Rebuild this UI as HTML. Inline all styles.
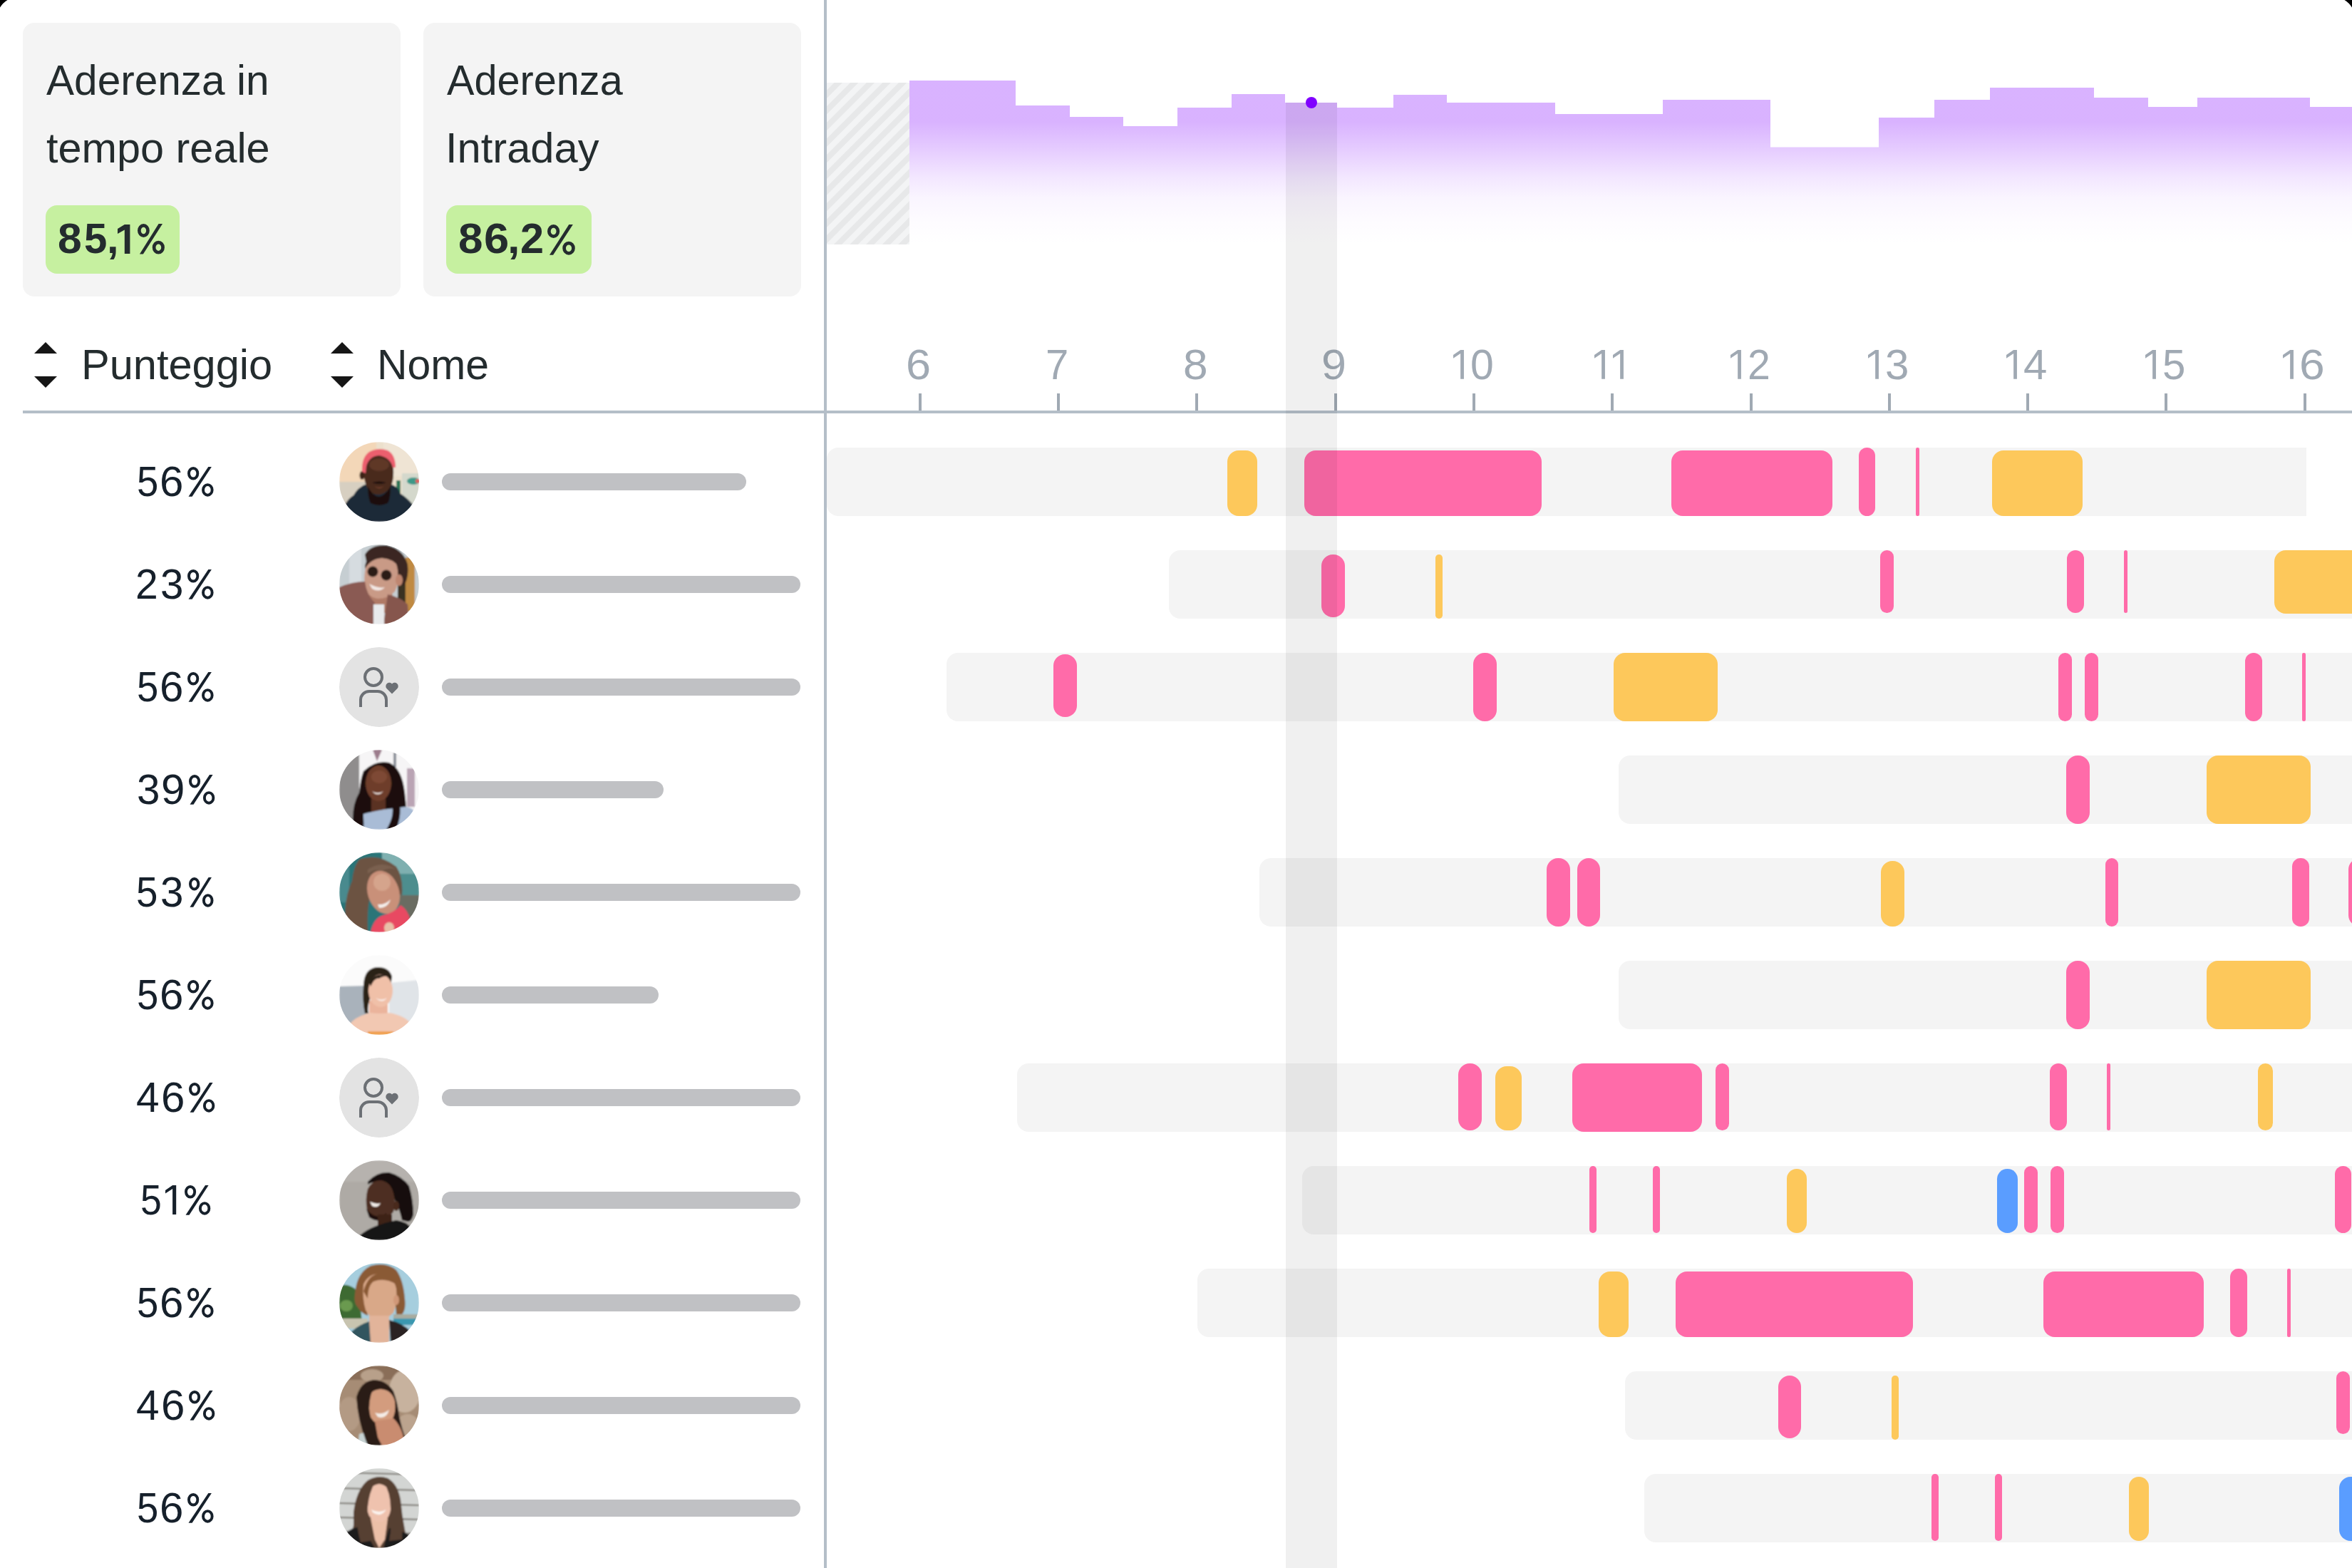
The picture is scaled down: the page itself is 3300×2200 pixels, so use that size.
<!DOCTYPE html>
<html><head><meta charset="utf-8"><style>
html,body{margin:0;padding:0;}
body{width:3300px;height:2200px;overflow:hidden;background:#000;position:relative;font-family:"Liberation Sans", sans-serif;}
#m{position:absolute;left:0;top:0;width:3300px;height:2200px;background:#fff;overflow:hidden;}
.t{position:absolute;white-space:nowrap;}
.r{position:absolute;display:block;}
</style></head><body><div id="m">
<div class="r" style="left:32.0px;top:32.0px;width:530.0px;height:384.0px;background:#f4f4f4;border-radius:16px;"></div>
<div class="r" style="left:594.0px;top:32.0px;width:530.0px;height:384.0px;background:#f4f4f4;border-radius:16px;"></div>
<div class="t" style="left:65.29px;top:82.63px;font-size:59.5px;line-height:59.5px;color:#242c2e;font-weight:400;transform:scaleX(0.9842);transform-origin:left center;">Aderenza in</div>
<div class="t" style="left:64.90px;top:177.63px;font-size:59.5px;line-height:59.5px;color:#242c2e;font-weight:400;transform:scaleX(0.9982);transform-origin:left center;">tempo reale</div>
<div class="t" style="left:627.49px;top:82.63px;font-size:59.5px;line-height:59.5px;color:#242c2e;font-weight:400;transform:scaleX(0.9686);transform-origin:left center;">Aderenza</div>
<div class="t" style="left:625.20px;top:177.63px;font-size:59.5px;line-height:59.5px;color:#242c2e;font-weight:400;transform:scaleX(1.0025);transform-origin:left center;">Intraday</div>
<div class="r" style="left:64.0px;top:288.0px;width:188.0px;height:96.0px;background:#c6f0a0;border-radius:16px;"></div>
<div class="r" style="left:626.0px;top:288.0px;width:204.0px;height:96.0px;background:#c6f0a0;border-radius:16px;"></div>
<div class="t" style="left:81.08px;top:305.21px;font-size:60px;line-height:60px;color:#242c2e;font-weight:700;transform:scaleX(1.0095);transform-origin:left center;">8</div>
<div class="t" style="left:118.01px;top:305.21px;font-size:60px;line-height:60px;color:#242c2e;font-weight:700;transform:scaleX(0.9681);transform-origin:left center;">5</div>
<div class="t" style="left:149.57px;top:305.21px;font-size:60px;line-height:60px;color:#242c2e;font-weight:700;transform:scaleX(0.9902);transform-origin:left center;">,</div>
<svg class="r" style="left:163.60px;top:314.00px" width="19.40" height="43.00" viewBox="0 0 19.40 43.00"><path d="M1.00 7.00 L10.80 1.00 H18.40 V42.00 H10.80 V8.50 L1.00 14.00 Z" fill="#242c2e"/></svg>
<svg class="r" style="left:192.20px;top:313.10px" width="39.90" height="44.60" viewBox="0 0 39.90 44.60"><ellipse cx="9.41" cy="10.46" rx="6.06" ry="7.11" fill="none" stroke="#242c2e" stroke-width="4.7"/><ellipse cx="30.33" cy="34.14" rx="6.22" ry="7.11" fill="none" stroke="#242c2e" stroke-width="4.7"/><path d="M3.92 43.60 L8.88 43.60 L36.02 1 L30.60 1 Z" fill="#242c2e"/></svg>
<div class="t" style="left:642.73px;top:305.41px;font-size:60px;line-height:60px;color:#242c2e;font-weight:700;transform:scaleX(1.0331);transform-origin:left center;">8</div>
<div class="t" style="left:678.58px;top:305.41px;font-size:60px;line-height:60px;color:#242c2e;font-weight:700;transform:scaleX(1.0550);transform-origin:left center;">6</div>
<div class="t" style="left:711.83px;top:305.41px;font-size:60px;line-height:60px;color:#242c2e;font-weight:700;transform:scaleX(1.0485);transform-origin:left center;">,</div>
<div class="t" style="left:730.34px;top:305.41px;font-size:60px;line-height:60px;color:#242c2e;font-weight:700;transform:scaleX(0.9901);transform-origin:left center;">2</div>
<svg class="r" style="left:767.20px;top:313.50px" width="40.80" height="44.70" viewBox="0 0 40.80 44.70"><ellipse cx="9.61" cy="10.48" rx="6.26" ry="7.13" fill="none" stroke="#242c2e" stroke-width="4.7"/><ellipse cx="31.03" cy="34.22" rx="6.42" ry="7.13" fill="none" stroke="#242c2e" stroke-width="4.7"/><path d="M3.99 43.70 L9.07 43.70 L36.85 1 L31.30 1 Z" fill="#242c2e"/></svg>
<svg class="r" style="left:48px;top:480px" width="32" height="64" viewBox="0 0 32 64"><path d="M0 16 L32 16 L16 0 Z M0 48 L32 48 L16 64 Z" fill="#161616"/></svg>
<div class="t" style="left:113.72px;top:481.63px;font-size:59.5px;line-height:59.5px;color:#242c2e;font-weight:400;transform:scaleX(1.0008);transform-origin:left center;">Punteggio</div>
<svg class="r" style="left:464px;top:480px" width="32" height="64" viewBox="0 0 32 64"><path d="M0 16 L32 16 L16 0 Z M0 48 L32 48 L16 64 Z" fill="#161616"/></svg>
<div class="t" style="left:529.37px;top:481.63px;font-size:59.5px;line-height:59.5px;color:#242c2e;font-weight:400;transform:scaleX(0.9888);transform-origin:left center;">Nome</div>
<div class="r" style="left:32.0px;top:576.0px;width:3268.0px;height:4.0px;background:#b4bec8;border-radius:0;"></div>
<div class="r" style="left:1156.0px;top:0.0px;width:4.0px;height:2200.0px;background:#b4bec8;border-radius:0;"></div>
<div class="r" style="left:1288.8px;top:552.0px;width:4.0px;height:24.0px;background:#a0a9b3;border-radius:0;"></div>
<div class="t" style="left:1271.30px;top:481.63px;font-size:59.5px;line-height:59.5px;color:#a0a9b3;font-weight:400;transform:scaleX(1.0599);transform-origin:left center;">6</div>
<div class="r" style="left:1483.1px;top:552.0px;width:4.0px;height:24.0px;background:#a0a9b3;border-radius:0;"></div>
<div class="t" style="left:1466.92px;top:481.63px;font-size:59.5px;line-height:59.5px;color:#a0a9b3;font-weight:400;transform:scaleX(0.9760);transform-origin:left center;">7</div>
<div class="r" style="left:1677.4px;top:552.0px;width:4.0px;height:24.0px;background:#a0a9b3;border-radius:0;"></div>
<div class="t" style="left:1660.30px;top:481.63px;font-size:59.5px;line-height:59.5px;color:#a0a9b3;font-weight:400;transform:scaleX(1.0459);transform-origin:left center;">8</div>
<div class="r" style="left:1871.7px;top:552.0px;width:4.0px;height:24.0px;background:#a0a9b3;border-radius:0;"></div>
<div class="t" style="left:1853.86px;top:481.63px;font-size:59.5px;line-height:59.5px;color:#a0a9b3;font-weight:400;transform:scaleX(1.0552);transform-origin:left center;">9</div>
<div class="r" style="left:2066.0px;top:552.0px;width:4.0px;height:24.0px;background:#a0a9b3;border-radius:0;"></div>
<svg class="r" style="left:2038.00px;top:490.10px" width="16.95" height="42.80" viewBox="0 0 16.95 42.80"><path d="M1.00 8.00 L11.15 1.00 H15.95 V41.80 H11.15 V6.00 L1.00 12.80 Z" fill="#a0a9b3"/></svg>
<div class="t" style="left:2062.70px;top:481.63px;font-size:59.5px;line-height:59.5px;color:#a0a9b3;font-weight:400;transform:scaleX(0.9915);transform-origin:left center;">0</div>
<div class="r" style="left:2260.2px;top:552.0px;width:4.0px;height:24.0px;background:#a0a9b3;border-radius:0;"></div>
<svg class="r" style="left:2236.30px;top:490.10px" width="16.95" height="42.80" viewBox="0 0 16.95 42.80"><path d="M1.00 8.00 L11.15 1.00 H15.95 V41.80 H11.15 V6.00 L1.00 12.80 Z" fill="#a0a9b3"/></svg>
<svg class="r" style="left:2262.30px;top:490.10px" width="16.95" height="42.80" viewBox="0 0 16.95 42.80"><path d="M1.00 8.00 L11.15 1.00 H15.95 V41.80 H11.15 V6.00 L1.00 12.80 Z" fill="#a0a9b3"/></svg>
<div class="r" style="left:2454.5px;top:552.0px;width:4.0px;height:24.0px;background:#a0a9b3;border-radius:0;"></div>
<svg class="r" style="left:2426.80px;top:490.10px" width="16.95" height="42.80" viewBox="0 0 16.95 42.80"><path d="M1.00 8.00 L11.15 1.00 H15.95 V41.80 H11.15 V6.00 L1.00 12.80 Z" fill="#a0a9b3"/></svg>
<div class="t" style="left:2451.82px;top:481.63px;font-size:59.5px;line-height:59.5px;color:#a0a9b3;font-weight:400;transform:scaleX(0.9629);transform-origin:left center;">2</div>
<div class="r" style="left:2648.8px;top:552.0px;width:4.0px;height:24.0px;background:#a0a9b3;border-radius:0;"></div>
<svg class="r" style="left:2620.00px;top:490.10px" width="16.95" height="42.80" viewBox="0 0 16.95 42.80"><path d="M1.00 8.00 L11.15 1.00 H15.95 V41.80 H11.15 V6.00 L1.00 12.80 Z" fill="#a0a9b3"/></svg>
<div class="t" style="left:2645.31px;top:481.63px;font-size:59.5px;line-height:59.5px;color:#a0a9b3;font-weight:400;transform:scaleX(1.0103);transform-origin:left center;">3</div>
<div class="r" style="left:2843.1px;top:552.0px;width:4.0px;height:24.0px;background:#a0a9b3;border-radius:0;"></div>
<svg class="r" style="left:2813.70px;top:490.10px" width="16.95" height="42.80" viewBox="0 0 16.95 42.80"><path d="M1.00 8.00 L11.15 1.00 H15.95 V41.80 H11.15 V6.00 L1.00 12.80 Z" fill="#a0a9b3"/></svg>
<div class="t" style="left:2839.42px;top:481.63px;font-size:59.5px;line-height:59.5px;color:#a0a9b3;font-weight:400;transform:scaleX(1.0073);transform-origin:left center;">4</div>
<div class="r" style="left:3037.4px;top:552.0px;width:4.0px;height:24.0px;background:#a0a9b3;border-radius:0;"></div>
<svg class="r" style="left:3009.20px;top:490.10px" width="16.95" height="42.80" viewBox="0 0 16.95 42.80"><path d="M1.00 8.00 L11.15 1.00 H15.95 V41.80 H11.15 V6.00 L1.00 12.80 Z" fill="#a0a9b3"/></svg>
<div class="t" style="left:3034.37px;top:481.63px;font-size:59.5px;line-height:59.5px;color:#a0a9b3;font-weight:400;transform:scaleX(0.9784);transform-origin:left center;">5</div>
<div class="r" style="left:3231.7px;top:552.0px;width:4.0px;height:24.0px;background:#a0a9b3;border-radius:0;"></div>
<svg class="r" style="left:3202.00px;top:490.10px" width="16.95" height="42.80" viewBox="0 0 16.95 42.80"><path d="M1.00 8.00 L11.15 1.00 H15.95 V41.80 H11.15 V6.00 L1.00 12.80 Z" fill="#a0a9b3"/></svg>
<div class="t" style="left:3226.34px;top:481.63px;font-size:59.5px;line-height:59.5px;color:#a0a9b3;font-weight:400;transform:scaleX(1.0781);transform-origin:left center;">6</div>
<svg class="r" style="left:0;top:0" width="3300" height="400" viewBox="0 0 3300 400">
<defs>
<linearGradient id="pg" gradientUnits="userSpaceOnUse" x1="0" y1="113" x2="0" y2="343">
<stop offset="0" stop-color="#8000ff" stop-opacity="0.3"/>
<stop offset="0.252" stop-color="#8000ff" stop-opacity="0.3"/>
<stop offset="0.387" stop-color="#8000ff" stop-opacity="0.22"/>
<stop offset="0.587" stop-color="#8000ff" stop-opacity="0.098"/>
<stop offset="0.717" stop-color="#8000ff" stop-opacity="0.04"/>
<stop offset="0.852" stop-color="#8000ff" stop-opacity="0.015"/>
<stop offset="1" stop-color="#8000ff" stop-opacity="0"/>
</linearGradient>
<pattern id="hatch" patternUnits="userSpaceOnUse" width="16" height="16" patternTransform="rotate(45) translate(13.7 0)">
<rect width="16" height="16" fill="#f3f4f5"/><rect width="8" height="16" fill="#e7e8e9"/>
</pattern>
</defs>
<rect x="1160" y="116" width="116" height="227" fill="url(#hatch)"/>
<polygon points="1276,343 1276,113 1425,113 1425,148 1501,148 1501,164 1576,164 1576,177 1652,177 1652,151 1728,151 1728,132 1803,132 1803,144 1876,144 1876,151 1955,151 1955,133 2030,133 2030,144 2182,144 2182,160 2333,160 2333,140 2484,140 2484,206.5 2636,206.5 2636,165 2714,165 2714,140 2792,140 2792,123 2938,123 2938,137 3014,137 3014,150 3083,150 3083,137 3241,137 3241,150 3300,150 3300,343" fill="url(#pg)"/>
</svg>
<div class="t" style="left:191.62px;top:645.63px;font-size:59.5px;line-height:59.5px;color:#16202b;font-weight:400;transform:scaleX(0.9146);transform-origin:left center;">5</div>
<div class="t" style="left:223.95px;top:645.63px;font-size:59.5px;line-height:59.5px;color:#16202b;font-weight:400;transform:scaleX(1.0089);transform-origin:left center;">6</div>
<svg class="r" style="left:261.70px;top:653.80px" width="38.60" height="43.70" viewBox="0 0 38.60 43.70"><ellipse cx="9.13" cy="10.26" rx="6.18" ry="7.31" fill="none" stroke="#16202b" stroke-width="3.9"/><ellipse cx="29.33" cy="33.44" rx="6.32" ry="7.31" fill="none" stroke="#16202b" stroke-width="3.9"/><path d="M2.50 42.70 L7.55 42.70 L34.86 1 L30.28 1 Z" fill="#16202b"/></svg>
<svg class="r" style="left:476px;top:620px" width="112" height="112" viewBox="0 0 112 112"><defs><clipPath id="ca1676"><circle cx="56" cy="56" r="56"/></clipPath><filter id="fa1676" x="-10%" y="-10%" width="120%" height="120%"><feGaussianBlur stdDeviation="1.3"/></filter></defs><g clip-path="url(#ca1676)"><g filter="url(#fa1676)"><rect width="112" height="112" fill="#ece0cc"/>
<rect x="0" y="0" width="52" height="58" fill="#f3d7b8"/>
<rect x="0" y="56" width="40" height="56" fill="#d7cfc1"/>
<rect x="62" y="0" width="50" height="48" fill="#efe4d4"/>
<rect x="88" y="44" width="24" height="48" fill="#d4d8cc"/>
<rect x="80" y="54" width="6" height="30" fill="#2e7656"/>
<ellipse cx="104" cy="55" rx="9" ry="5" fill="#3c9888"/>
<circle cx="110" cy="55" r="3" fill="#e06060"/>
<path d="M8 88 Q14 78 20 75 Q26 64 36 60 L74 60 Q84 64 85 72 Q98 80 106 92 L112 112 L0 112 Z" fill="#1c2b39"/>
<ellipse cx="32" cy="47" rx="3.5" ry="6" fill="#3a2016"/>
<path d="M34 36 Q34 18 55 17 Q76 18 76 38 Q77 58 70 66 Q62 74 55 74 Q46 74 40 66 Q34 56 34 36 Z" fill="#4a2a1e"/>
<ellipse cx="56" cy="32" rx="14" ry="9" fill="#5e3728"/>
<path d="M32 42 Q31 22 42 14 Q55 7 68 12 Q79 18 79 36 L75 36 Q72 22 56 19 Q42 20 38 34 L37 44 Z" fill="#ec5f6e"/>
<path d="M40 62 Q55 92 72 62 Q72 80 68 86 Q56 92 44 86 Q40 78 40 62 Z" fill="#1a100c"/>
<path d="M46 57 Q56 54 66 57 Q56 61 46 57 Z" fill="#1a100c"/>
<path d="M49 62 Q56 66 63 62 Q56 68 49 62 Z" fill="#8a4a38"/></g></g></svg>
<div class="r" style="left:620.0px;top:664.0px;width:427.0px;height:24.0px;background:#c0c1c4;border-radius:12px;"></div>
<div class="r" style="left:1160.0px;top:628.0px;width:2076.0px;height:96.0px;background:#f4f4f4;border-radius:16px 0 0 16px;"></div>
<div class="r" style="left:1722.0px;top:632.0px;width:42.0px;height:92.0px;background:#fdc85b;border-radius:16.0px;"></div>
<div class="r" style="left:1830.0px;top:632.0px;width:333.0px;height:92.0px;background:#ff6ba9;border-radius:16.0px;"></div>
<div class="r" style="left:2345.0px;top:632.0px;width:226.0px;height:92.0px;background:#ff6ba9;border-radius:16.0px;"></div>
<div class="r" style="left:2608.0px;top:628.0px;width:23.0px;height:96.0px;background:#ff6ba9;border-radius:11.5px;"></div>
<div class="r" style="left:2688.0px;top:628.0px;width:4.5px;height:96.0px;background:#ff6ba9;border-radius:2.2px;"></div>
<div class="r" style="left:2795.0px;top:632.0px;width:127.0px;height:92.0px;background:#fdc85b;border-radius:16.0px;"></div>
<div class="t" style="left:190.13px;top:789.63px;font-size:59.5px;line-height:59.5px;color:#16202b;font-weight:400;transform:scaleX(0.9592);transform-origin:left center;">2</div>
<div class="t" style="left:224.77px;top:789.63px;font-size:59.5px;line-height:59.5px;color:#16202b;font-weight:400;transform:scaleX(0.9819);transform-origin:left center;">3</div>
<svg class="r" style="left:261.70px;top:797.80px" width="38.60" height="43.70" viewBox="0 0 38.60 43.70"><ellipse cx="9.13" cy="10.26" rx="6.18" ry="7.31" fill="none" stroke="#16202b" stroke-width="3.9"/><ellipse cx="29.33" cy="33.44" rx="6.32" ry="7.31" fill="none" stroke="#16202b" stroke-width="3.9"/><path d="M2.50 42.70 L7.55 42.70 L34.86 1 L30.28 1 Z" fill="#16202b"/></svg>
<svg class="r" style="left:476px;top:764px" width="112" height="112" viewBox="0 0 112 112"><defs><clipPath id="ca2820"><circle cx="56" cy="56" r="56"/></clipPath><filter id="fa2820" x="-10%" y="-10%" width="120%" height="120%"><feGaussianBlur stdDeviation="1.3"/></filter></defs><g clip-path="url(#ca2820)"><g filter="url(#fa2820)"><rect width="112" height="112" fill="#c6ced2"/>
<rect x="14" y="0" width="17" height="60" fill="#d6dce0"/>
<rect x="82" y="36" width="12" height="46" fill="#3a3024"/>
<rect x="93" y="18" width="13" height="76" fill="#c08a42"/>
<path d="M36 14 Q44 0 66 1 Q90 6 96 28 Q98 44 92 56 L84 58 L80 36 Q60 22 40 34 Z" fill="#3a2820"/>
<path d="M38 62 Q50 86 74 64 L76 96 L42 96 Z" fill="#b07a66"/>
<path d="M37 32 Q40 14 60 14 Q80 16 82 36 Q84 56 78 66 Q68 76 54 76 Q40 74 36 60 Q34 46 37 32 Z" fill="#c99a86"/>
<ellipse cx="84" cy="50" rx="5" ry="8" fill="#bf8670"/>
<path d="M36 30 Q40 10 62 10 Q80 12 84 32 Q76 20 60 19 Q44 20 36 34 Z" fill="#3a2820"/>
<circle cx="47" cy="38" r="7.5" fill="#2a1a16"/>
<circle cx="66" cy="43" r="7.5" fill="#2a1a16"/>
<path d="M42 55 Q54 62 64 60 Q56 68 46 62 Z" fill="#f2e8e4"/>
<path d="M0 60 Q18 52 36 52 Q38 70 50 82 L48 112 L0 112 Z" fill="#8a5a52"/>
<path d="M68 70 Q86 74 96 84 L98 112 L62 112 Z" fill="#86564e"/>
<rect x="48" y="84" width="15" height="28" fill="#e8eaec"/></g></g></svg>
<div class="r" style="left:620.0px;top:808.0px;width:503.0px;height:24.0px;background:#c0c1c4;border-radius:12px;"></div>
<div class="r" style="left:1640.0px;top:772.0px;width:1660.0px;height:96.0px;background:#f4f4f4;border-radius:16px 0 0 16px;"></div>
<div class="r" style="left:1854.0px;top:778.0px;width:33.0px;height:88.0px;background:#ff6ba9;border-radius:16.0px;"></div>
<div class="r" style="left:2014.0px;top:778.0px;width:9.5px;height:90.0px;background:#fdc85b;border-radius:4.8px;"></div>
<div class="r" style="left:2638.0px;top:772.0px;width:18.5px;height:88.0px;background:#ff6ba9;border-radius:9.2px;"></div>
<div class="r" style="left:2900.0px;top:772.0px;width:24.0px;height:88.0px;background:#ff6ba9;border-radius:12.0px;"></div>
<div class="r" style="left:2980.0px;top:772.0px;width:5.0px;height:88.0px;background:#ff6ba9;border-radius:2.5px;"></div>
<div class="r" style="left:3191.0px;top:772.0px;width:149.0px;height:89.0px;background:#fdc85b;border-radius:16.0px;"></div>
<div class="t" style="left:191.62px;top:933.63px;font-size:59.5px;line-height:59.5px;color:#16202b;font-weight:400;transform:scaleX(0.9146);transform-origin:left center;">5</div>
<div class="t" style="left:223.95px;top:933.63px;font-size:59.5px;line-height:59.5px;color:#16202b;font-weight:400;transform:scaleX(1.0089);transform-origin:left center;">6</div>
<svg class="r" style="left:261.70px;top:941.80px" width="38.60" height="43.70" viewBox="0 0 38.60 43.70"><ellipse cx="9.13" cy="10.26" rx="6.18" ry="7.31" fill="none" stroke="#16202b" stroke-width="3.9"/><ellipse cx="29.33" cy="33.44" rx="6.32" ry="7.31" fill="none" stroke="#16202b" stroke-width="3.9"/><path d="M2.50 42.70 L7.55 42.70 L34.86 1 L30.28 1 Z" fill="#16202b"/></svg>
<svg class="r" style="left:476px;top:908px" width="112" height="112" viewBox="0 0 112 112"><defs><clipPath id="cph964"><circle cx="56" cy="56" r="56"/></clipPath><filter id="fph964" x="-10%" y="-10%" width="120%" height="120%"><feGaussianBlur stdDeviation="1.3"/></filter></defs><g clip-path="url(#cph964)"><g><circle cx="56" cy="56" r="56" fill="#e3e3e3"/>
<circle cx="48" cy="42" r="12" fill="none" stroke="#6c7075" stroke-width="4"/>
<path d="M30 84 V74 A12 12 0 0 1 42 62 H54 A12 12 0 0 1 66 74 V84" fill="none" stroke="#6c7075" stroke-width="4"/>
<path d="M74 65.5 L66.5 58 A4.6 4.6 0 0 1 74 51.5 A4.6 4.6 0 0 1 81.5 58 Z" fill="#6c7075"/></g></g></svg>
<div class="r" style="left:620.0px;top:952.0px;width:503.0px;height:24.0px;background:#c0c1c4;border-radius:12px;"></div>
<div class="r" style="left:1328.0px;top:916.0px;width:1972.0px;height:96.0px;background:#f4f4f4;border-radius:16px 0 0 16px;"></div>
<div class="r" style="left:1478.0px;top:918.0px;width:33.0px;height:88.0px;background:#ff6ba9;border-radius:16.0px;"></div>
<div class="r" style="left:2067.0px;top:916.0px;width:33.0px;height:96.0px;background:#ff6ba9;border-radius:16.0px;"></div>
<div class="r" style="left:2264.0px;top:916.0px;width:145.5px;height:96.0px;background:#fdc85b;border-radius:16.0px;"></div>
<div class="r" style="left:2888.0px;top:916.0px;width:19.0px;height:96.0px;background:#ff6ba9;border-radius:9.5px;"></div>
<div class="r" style="left:2925.0px;top:916.0px;width:19.0px;height:96.0px;background:#ff6ba9;border-radius:9.5px;"></div>
<div class="r" style="left:3150.0px;top:916.0px;width:24.0px;height:96.0px;background:#ff6ba9;border-radius:12.0px;"></div>
<div class="r" style="left:3230.4px;top:916.0px;width:4.6px;height:96.0px;background:#ff6ba9;border-radius:2.3px;"></div>
<div class="t" style="left:191.77px;top:1077.63px;font-size:59.5px;line-height:59.5px;color:#16202b;font-weight:400;transform:scaleX(0.9819);transform-origin:left center;">3</div>
<div class="t" style="left:226.29px;top:1077.63px;font-size:59.5px;line-height:59.5px;color:#16202b;font-weight:400;transform:scaleX(1.0079);transform-origin:left center;">9</div>
<svg class="r" style="left:263.80px;top:1085.80px" width="38.30" height="43.70" viewBox="0 0 38.30 43.70"><ellipse cx="9.06" cy="10.26" rx="6.11" ry="7.31" fill="none" stroke="#16202b" stroke-width="3.9"/><ellipse cx="29.10" cy="33.44" rx="6.25" ry="7.31" fill="none" stroke="#16202b" stroke-width="3.9"/><path d="M2.49 42.70 L7.50 42.70 L34.58 1 L30.04 1 Z" fill="#16202b"/></svg>
<svg class="r" style="left:476px;top:1052px" width="112" height="112" viewBox="0 0 112 112"><defs><clipPath id="ca41108"><circle cx="56" cy="56" r="56"/></clipPath><filter id="fa41108" x="-10%" y="-10%" width="120%" height="120%"><feGaussianBlur stdDeviation="1.3"/></filter></defs><g clip-path="url(#ca41108)"><g filter="url(#fa41108)"><rect width="112" height="112" fill="#f6f5f6"/>
<rect x="0" y="0" width="28" height="112" fill="#8f8d8d"/>
<rect x="76" y="4" width="4" height="20" fill="#8a9098"/>
<path d="M47 0 L60 0 L53 16 Z" fill="#9c7c8c"/>
<rect x="95" y="26" width="11" height="54" fill="#baa4b4"/>
<path d="M34 30 Q50 14 70 18 Q88 26 92 60 Q96 90 92 112 L20 112 Q16 80 28 60 Q30 40 34 30 Z" fill="#1a1110"/>
<rect x="45" y="64" width="20" height="26" fill="#5a3020"/>
<ellipse cx="55" cy="47" rx="18" ry="25" fill="#6e3e2a"/>
<ellipse cx="56" cy="38" rx="11" ry="9" fill="#7e4a34"/>
<path d="M46 58 Q54 63 62 58 Q54 67 46 58 Z" fill="#f0e8e4"/>
<path d="M34 90 Q55 84 92 80 Q104 80 106 90 L100 112 L34 112 Z" fill="#a9bcd6"/>
<path d="M28 70 Q36 90 34 112 L20 112 Q18 90 28 70 Z" fill="#1a1110"/>
<path d="M78 60 Q92 80 80 112 L66 112 Q80 90 72 70 Z" fill="#1a1110"/></g></g></svg>
<div class="r" style="left:620.0px;top:1096.0px;width:311.0px;height:24.0px;background:#c0c1c4;border-radius:12px;"></div>
<div class="r" style="left:2270.6px;top:1060.0px;width:1029.4px;height:96.0px;background:#f4f4f4;border-radius:16px 0 0 16px;"></div>
<div class="r" style="left:2899.0px;top:1060.0px;width:33.0px;height:96.0px;background:#ff6ba9;border-radius:16.0px;"></div>
<div class="r" style="left:3096.0px;top:1060.0px;width:145.6px;height:96.0px;background:#fdc85b;border-radius:16.0px;"></div>
<div class="t" style="left:190.91px;top:1221.63px;font-size:59.5px;line-height:59.5px;color:#16202b;font-weight:400;transform:scaleX(0.9181);transform-origin:left center;">5</div>
<div class="t" style="left:224.77px;top:1221.63px;font-size:59.5px;line-height:59.5px;color:#16202b;font-weight:400;transform:scaleX(0.9819);transform-origin:left center;">3</div>
<svg class="r" style="left:263.80px;top:1229.80px" width="36.50" height="43.70" viewBox="0 0 36.50 43.70"><ellipse cx="8.66" cy="10.26" rx="5.71" ry="7.31" fill="none" stroke="#16202b" stroke-width="3.9"/><ellipse cx="27.70" cy="33.44" rx="5.85" ry="7.31" fill="none" stroke="#16202b" stroke-width="3.9"/><path d="M2.41 42.70 L7.18 42.70 L32.91 1 L28.60 1 Z" fill="#16202b"/></svg>
<svg class="r" style="left:476px;top:1196px" width="112" height="112" viewBox="0 0 112 112"><defs><clipPath id="ca51252"><circle cx="56" cy="56" r="56"/></clipPath><filter id="fa51252" x="-10%" y="-10%" width="120%" height="120%"><feGaussianBlur stdDeviation="1.3"/></filter></defs><g clip-path="url(#ca51252)"><g filter="url(#fa51252)"><rect width="112" height="112" fill="#2a7478"/>
<rect x="60" y="0" width="52" height="30" fill="#7fb0b0"/>
<rect x="80" y="30" width="32" height="30" fill="#4e8e8e"/>
<rect x="84" y="60" width="28" height="32" fill="#6a6c62"/>
<rect x="0" y="20" width="14" height="50" fill="#4a8a8e"/>
<path d="M28 10 Q55 0 80 20 Q90 35 88 60 L50 50 Q38 60 40 112 L10 112 Q4 70 18 40 Q20 20 28 10 Z" fill="#6c5242"/>
<ellipse cx="62" cy="56" rx="22" ry="31" transform="rotate(-18 62 56)" fill="#c99079"/>
<ellipse cx="60" cy="42" rx="12" ry="12" fill="#d5a48c"/>
<path d="M54 73 Q64 74 72 66 Q68 78 56 78 Z" fill="#f4eeea"/>
<path d="M40 24 Q60 10 80 24 Q70 20 60 26 Q50 22 40 30 Z" fill="#7a6050"/>
<path d="M44 112 Q48 92 62 88 Q78 84 86 74 Q96 80 100 96 L96 112 Z" fill="#e84a62"/>
<ellipse cx="70" cy="106" rx="7" ry="8" fill="#e8c0a8"/></g></g></svg>
<div class="r" style="left:620.0px;top:1240.0px;width:503.0px;height:24.0px;background:#c0c1c4;border-radius:12px;"></div>
<div class="r" style="left:1767.0px;top:1204.0px;width:1533.0px;height:96.0px;background:#f4f4f4;border-radius:16px 0 0 16px;"></div>
<div class="r" style="left:2170.0px;top:1204.0px;width:33.0px;height:96.0px;background:#ff6ba9;border-radius:16.0px;"></div>
<div class="r" style="left:2212.7px;top:1204.0px;width:32.7px;height:96.0px;background:#ff6ba9;border-radius:16.0px;"></div>
<div class="r" style="left:2639.0px;top:1208.0px;width:33.0px;height:92.0px;background:#fdc85b;border-radius:16.0px;"></div>
<div class="r" style="left:2953.5px;top:1204.0px;width:18.7px;height:96.0px;background:#ff6ba9;border-radius:9.3px;"></div>
<div class="r" style="left:3216.4px;top:1204.0px;width:23.3px;height:96.0px;background:#ff6ba9;border-radius:11.6px;"></div>
<div class="r" style="left:3295.4px;top:1204.0px;width:34.6px;height:96.0px;background:#ff6ba9;border-radius:16.0px;"></div>
<div class="t" style="left:191.62px;top:1365.63px;font-size:59.5px;line-height:59.5px;color:#16202b;font-weight:400;transform:scaleX(0.9146);transform-origin:left center;">5</div>
<div class="t" style="left:223.95px;top:1365.63px;font-size:59.5px;line-height:59.5px;color:#16202b;font-weight:400;transform:scaleX(1.0089);transform-origin:left center;">6</div>
<svg class="r" style="left:261.70px;top:1373.80px" width="38.60" height="43.70" viewBox="0 0 38.60 43.70"><ellipse cx="9.13" cy="10.26" rx="6.18" ry="7.31" fill="none" stroke="#16202b" stroke-width="3.9"/><ellipse cx="29.33" cy="33.44" rx="6.32" ry="7.31" fill="none" stroke="#16202b" stroke-width="3.9"/><path d="M2.50 42.70 L7.55 42.70 L34.86 1 L30.28 1 Z" fill="#16202b"/></svg>
<svg class="r" style="left:476px;top:1340px" width="112" height="112" viewBox="0 0 112 112"><defs><clipPath id="ca61396"><circle cx="56" cy="56" r="56"/></clipPath><filter id="fa61396" x="-10%" y="-10%" width="120%" height="120%"><feGaussianBlur stdDeviation="1.3"/></filter></defs><g clip-path="url(#ca61396)"><g filter="url(#fa61396)"><rect width="112" height="112" fill="#fbfbfb"/>
<path d="M0 44 L38 43 L38 112 L0 112 Z" fill="#a9b2bb"/>
<path d="M70 39 L112 35 L112 112 L70 112 Z" fill="#e0e4e8"/>
<path d="M34 42 Q35 18 54 17 Q70 17 74 30 L72 44 Q60 30 46 40 L43 62 Q39 74 41 82 L36 82 Q32 64 34 42 Z" fill="#2a2018"/>
<rect x="42" y="64" width="26" height="26" fill="#ebb49c"/>
<ellipse cx="58" cy="50" rx="17" ry="23" fill="#f0c0a8"/>
<path d="M42 38 Q52 22 72 30 Q62 28 56 33 Q50 31 44 44 Z" fill="#2a2018"/>
<path d="M51 60 Q59 65 67 60 Q60 69 51 60 Z" fill="#faf0ec"/>
<path d="M14 98 Q22 86 44 81 Q58 83 70 81 Q92 85 100 96 L104 112 L10 112 Z" fill="#f2c8b2"/>
<rect x="40" y="107" width="36" height="5" fill="#f0a050"/></g></g></svg>
<div class="r" style="left:620.0px;top:1384.0px;width:303.5px;height:24.0px;background:#c0c1c4;border-radius:12px;"></div>
<div class="r" style="left:2270.6px;top:1348.0px;width:1029.4px;height:96.0px;background:#f4f4f4;border-radius:16px 0 0 16px;"></div>
<div class="r" style="left:2899.0px;top:1348.0px;width:33.0px;height:96.0px;background:#ff6ba9;border-radius:16.0px;"></div>
<div class="r" style="left:3096.0px;top:1348.0px;width:145.6px;height:96.0px;background:#fdc85b;border-radius:16.0px;"></div>
<div class="t" style="left:191.46px;top:1509.63px;font-size:59.5px;line-height:59.5px;color:#16202b;font-weight:400;transform:scaleX(0.9839);transform-origin:left center;">4</div>
<div class="t" style="left:226.05px;top:1509.63px;font-size:59.5px;line-height:59.5px;color:#16202b;font-weight:400;transform:scaleX(1.0089);transform-origin:left center;">6</div>
<svg class="r" style="left:263.80px;top:1517.80px" width="38.30" height="43.70" viewBox="0 0 38.30 43.70"><ellipse cx="9.06" cy="10.26" rx="6.11" ry="7.31" fill="none" stroke="#16202b" stroke-width="3.9"/><ellipse cx="29.10" cy="33.44" rx="6.25" ry="7.31" fill="none" stroke="#16202b" stroke-width="3.9"/><path d="M2.49 42.70 L7.50 42.70 L34.58 1 L30.04 1 Z" fill="#16202b"/></svg>
<svg class="r" style="left:476px;top:1484px" width="112" height="112" viewBox="0 0 112 112"><defs><clipPath id="cph1540"><circle cx="56" cy="56" r="56"/></clipPath><filter id="fph1540" x="-10%" y="-10%" width="120%" height="120%"><feGaussianBlur stdDeviation="1.3"/></filter></defs><g clip-path="url(#cph1540)"><g><circle cx="56" cy="56" r="56" fill="#e3e3e3"/>
<circle cx="48" cy="42" r="12" fill="none" stroke="#6c7075" stroke-width="4"/>
<path d="M30 84 V74 A12 12 0 0 1 42 62 H54 A12 12 0 0 1 66 74 V84" fill="none" stroke="#6c7075" stroke-width="4"/>
<path d="M74 65.5 L66.5 58 A4.6 4.6 0 0 1 74 51.5 A4.6 4.6 0 0 1 81.5 58 Z" fill="#6c7075"/></g></g></svg>
<div class="r" style="left:620.0px;top:1528.0px;width:503.0px;height:24.0px;background:#c0c1c4;border-radius:12px;"></div>
<div class="r" style="left:1427.0px;top:1492.0px;width:1873.0px;height:96.0px;background:#f4f4f4;border-radius:16px 0 0 16px;"></div>
<div class="r" style="left:2046.0px;top:1492.0px;width:33.0px;height:94.0px;background:#ff6ba9;border-radius:16.0px;"></div>
<div class="r" style="left:2098.0px;top:1496.0px;width:37.0px;height:90.0px;background:#fdc85b;border-radius:16.0px;"></div>
<div class="r" style="left:2205.6px;top:1492.0px;width:182.4px;height:96.0px;background:#ff6ba9;border-radius:16.0px;"></div>
<div class="r" style="left:2407.0px;top:1492.0px;width:19.0px;height:94.0px;background:#ff6ba9;border-radius:9.5px;"></div>
<div class="r" style="left:2876.0px;top:1492.0px;width:24.0px;height:94.0px;background:#ff6ba9;border-radius:12.0px;"></div>
<div class="r" style="left:2956.0px;top:1492.0px;width:4.5px;height:94.0px;background:#ff6ba9;border-radius:2.2px;"></div>
<div class="r" style="left:3168.0px;top:1492.0px;width:21.0px;height:94.0px;background:#fdc85b;border-radius:10.5px;"></div>
<div class="t" style="left:197.05px;top:1653.63px;font-size:59.5px;line-height:59.5px;color:#16202b;font-weight:400;transform:scaleX(0.9004);transform-origin:left center;">5</div>
<svg class="r" style="left:230.80px;top:1662.10px" width="17.20" height="42.90" viewBox="0 0 17.20 42.90"><path d="M1.00 7.90 L11.10 1.00 H16.20 V41.90 H11.10 V5.90 L1.00 12.40 Z" fill="#16202b"/></svg>
<svg class="r" style="left:258.20px;top:1661.80px" width="38.30" height="43.70" viewBox="0 0 38.30 43.70"><ellipse cx="9.06" cy="10.26" rx="6.11" ry="7.31" fill="none" stroke="#16202b" stroke-width="3.9"/><ellipse cx="29.10" cy="33.44" rx="6.25" ry="7.31" fill="none" stroke="#16202b" stroke-width="3.9"/><path d="M2.49 42.70 L7.50 42.70 L34.58 1 L30.04 1 Z" fill="#16202b"/></svg>
<svg class="r" style="left:476px;top:1628px" width="112" height="112" viewBox="0 0 112 112"><defs><clipPath id="ca81684"><circle cx="56" cy="56" r="56"/></clipPath><filter id="fa81684" x="-10%" y="-10%" width="120%" height="120%"><feGaussianBlur stdDeviation="1.3"/></filter></defs><g clip-path="url(#ca81684)"><g filter="url(#fa81684)"><rect width="112" height="112" fill="#aeaaa5"/>
<rect width="112" height="30" fill="#b6b2ae"/>
<path d="M40 30 Q52 16 70 17 Q88 22 98 36 Q104 56 104 76 Q102 86 96 86 L88 84 Q84 66 78 56 Q70 34 56 30 Q46 30 40 34 Z" fill="#161010"/>
<path d="M40 40 Q46 28 58 28 Q72 30 76 46 Q80 60 76 72 Q68 84 56 84 Q42 82 39 70 Q36 54 40 40 Z" fill="#4e2e22"/>
<ellipse cx="80" cy="64" rx="4" ry="7" fill="#4a2a1e"/>
<path d="M43 58 Q52 62 58 60 Q54 68 46 64 Z" fill="#f2ece8"/>
<path d="M38 68 Q52 86 66 74 L64 82 Q54 88 42 80 Z" fill="#1a100c"/>
<rect x="54" y="76" width="20" height="16" fill="#3c2418"/>
<path d="M26 108 Q36 98 52 92 Q70 86 80 84 Q94 86 100 94 L112 112 L20 112 Z" fill="#141414"/></g></g></svg>
<div class="r" style="left:620.0px;top:1672.0px;width:503.0px;height:24.0px;background:#c0c1c4;border-radius:12px;"></div>
<div class="r" style="left:1827.0px;top:1636.0px;width:1473.0px;height:96.0px;background:#f4f4f4;border-radius:16px 0 0 16px;"></div>
<div class="r" style="left:2230.0px;top:1636.0px;width:10.0px;height:94.0px;background:#ff6ba9;border-radius:5.0px;"></div>
<div class="r" style="left:2319.0px;top:1636.0px;width:10.0px;height:94.0px;background:#ff6ba9;border-radius:5.0px;"></div>
<div class="r" style="left:2507.0px;top:1640.0px;width:28.0px;height:90.0px;background:#fdc85b;border-radius:14.0px;"></div>
<div class="r" style="left:2802.0px;top:1640.0px;width:28.5px;height:90.0px;background:#5a9dff;border-radius:14.2px;"></div>
<div class="r" style="left:2840.0px;top:1636.0px;width:18.6px;height:94.0px;background:#ff6ba9;border-radius:9.3px;"></div>
<div class="r" style="left:2877.0px;top:1636.0px;width:19.0px;height:94.0px;background:#ff6ba9;border-radius:9.5px;"></div>
<div class="r" style="left:3276.0px;top:1636.0px;width:23.0px;height:94.0px;background:#ff6ba9;border-radius:11.5px;"></div>
<div class="t" style="left:191.62px;top:1797.63px;font-size:59.5px;line-height:59.5px;color:#16202b;font-weight:400;transform:scaleX(0.9146);transform-origin:left center;">5</div>
<div class="t" style="left:223.95px;top:1797.63px;font-size:59.5px;line-height:59.5px;color:#16202b;font-weight:400;transform:scaleX(1.0089);transform-origin:left center;">6</div>
<svg class="r" style="left:261.70px;top:1805.80px" width="38.60" height="43.70" viewBox="0 0 38.60 43.70"><ellipse cx="9.13" cy="10.26" rx="6.18" ry="7.31" fill="none" stroke="#16202b" stroke-width="3.9"/><ellipse cx="29.33" cy="33.44" rx="6.32" ry="7.31" fill="none" stroke="#16202b" stroke-width="3.9"/><path d="M2.50 42.70 L7.55 42.70 L34.86 1 L30.28 1 Z" fill="#16202b"/></svg>
<svg class="r" style="left:476px;top:1772px" width="112" height="112" viewBox="0 0 112 112"><defs><clipPath id="ca91828"><circle cx="56" cy="56" r="56"/></clipPath><filter id="fa91828" x="-10%" y="-10%" width="120%" height="120%"><feGaussianBlur stdDeviation="1.3"/></filter></defs><g clip-path="url(#ca91828)"><g filter="url(#fa91828)"><rect width="112" height="112" fill="#a6cede"/>
<path d="M0 32 Q10 28 22 36 Q30 50 32 88 L0 90 Z" fill="#3d6a32"/>
<ellipse cx="10" cy="60" rx="9" ry="8" fill="#6a9a50"/>
<rect x="0" y="78" width="40" height="14" fill="#c8c4b0"/>
<rect x="76" y="72" width="36" height="6" fill="#a8aca0"/>
<rect x="76" y="78" width="36" height="9" fill="#3a98b0"/>
<path d="M22 44 Q24 14 44 4 Q66 -2 80 10 Q90 24 92 50 Q94 66 88 72 L80 72 L78 46 Q60 30 40 40 Q36 56 40 74 Q30 70 26 62 Q20 56 22 44 Z" fill="#8a5a36"/>
<path d="M34 30 Q40 16 56 15 Q76 16 80 36 Q82 56 76 70 Q66 80 54 79 Q42 78 37 66 Q32 50 34 30 Z" fill="#d9a888"/>
<path d="M34 40 Q40 16 58 14 Q74 16 80 30 Q64 20 48 26 Q40 32 40 50 Z" fill="#8a5a36"/>
<ellipse cx="80" cy="52" rx="4" ry="7" fill="#d09878"/>
<rect x="42" y="74" width="28" height="38" fill="#e2b49a"/>
<path d="M14 100 Q24 88 42 82 L44 112 L10 112 Z" fill="#33545e"/>
<path d="M70 80 Q88 84 100 96 L104 112 L72 112 Z" fill="#2a2220"/></g></g></svg>
<div class="r" style="left:620.0px;top:1816.0px;width:503.0px;height:24.0px;background:#c0c1c4;border-radius:12px;"></div>
<div class="r" style="left:1680.0px;top:1780.0px;width:1620.0px;height:96.0px;background:#f4f4f4;border-radius:16px 0 0 16px;"></div>
<div class="r" style="left:2243.0px;top:1784.0px;width:42.0px;height:92.0px;background:#fdc85b;border-radius:16.0px;"></div>
<div class="r" style="left:2350.6px;top:1784.0px;width:333.0px;height:92.0px;background:#ff6ba9;border-radius:16.0px;"></div>
<div class="r" style="left:2866.5px;top:1784.0px;width:225.5px;height:92.0px;background:#ff6ba9;border-radius:16.0px;"></div>
<div class="r" style="left:3129.4px;top:1780.0px;width:23.3px;height:96.0px;background:#ff6ba9;border-radius:11.6px;"></div>
<div class="r" style="left:3209.0px;top:1780.0px;width:4.6px;height:96.0px;background:#ff6ba9;border-radius:2.3px;"></div>
<div class="t" style="left:191.46px;top:1941.63px;font-size:59.5px;line-height:59.5px;color:#16202b;font-weight:400;transform:scaleX(0.9839);transform-origin:left center;">4</div>
<div class="t" style="left:226.05px;top:1941.63px;font-size:59.5px;line-height:59.5px;color:#16202b;font-weight:400;transform:scaleX(1.0089);transform-origin:left center;">6</div>
<svg class="r" style="left:263.80px;top:1949.80px" width="38.30" height="43.70" viewBox="0 0 38.30 43.70"><ellipse cx="9.06" cy="10.26" rx="6.11" ry="7.31" fill="none" stroke="#16202b" stroke-width="3.9"/><ellipse cx="29.10" cy="33.44" rx="6.25" ry="7.31" fill="none" stroke="#16202b" stroke-width="3.9"/><path d="M2.49 42.70 L7.50 42.70 L34.58 1 L30.04 1 Z" fill="#16202b"/></svg>
<svg class="r" style="left:476px;top:1916px" width="112" height="112" viewBox="0 0 112 112"><defs><clipPath id="ca101972"><circle cx="56" cy="56" r="56"/></clipPath><filter id="fa101972" x="-10%" y="-10%" width="120%" height="120%"><feGaussianBlur stdDeviation="1.3"/></filter></defs><g clip-path="url(#ca101972)"><g filter="url(#fa101972)"><rect width="112" height="112" fill="#a68c74"/>
<rect x="0" y="0" width="112" height="20" fill="#8a6e58"/>
<ellipse cx="46" cy="14" rx="16" ry="9" fill="#b8a08a"/>
<ellipse cx="92" cy="36" rx="22" ry="30" fill="#c7b29e"/>
<ellipse cx="14" cy="68" rx="16" ry="24" fill="#b39a84"/>
<ellipse cx="96" cy="84" rx="16" ry="16" fill="#bca48e"/>
<path d="M24 44 Q30 22 48 20 Q66 20 76 36 Q82 52 84 70 Q88 90 94 104 L86 112 L40 112 Q26 80 24 44 Z" fill="#2a1c16"/>
<path d="M40 46 Q44 34 58 33 Q74 34 78 50 Q80 66 74 76 Q66 84 58 83 Q46 80 42 68 Q38 58 40 46 Z" fill="#d39c7e"/>
<path d="M50 66 Q60 70 70 62 Q66 76 54 72 Z" fill="#f4ece6"/>
<path d="M50 78 L76 74 Q90 88 92 112 L56 112 Z" fill="#c98c70"/>
<path d="M28 96 Q36 92 44 98 L46 112 L26 112 Z" fill="#c6d2d2"/>
<path d="M28 48 Q34 28 52 24 Q42 40 42 60 Q44 84 60 112 L40 112 Q28 84 28 48 Z" fill="#2a1c16"/></g></g></svg>
<div class="r" style="left:620.0px;top:1960.0px;width:503.0px;height:24.0px;background:#c0c1c4;border-radius:12px;"></div>
<div class="r" style="left:2280.0px;top:1924.0px;width:1020.0px;height:96.0px;background:#f4f4f4;border-radius:16px 0 0 16px;"></div>
<div class="r" style="left:2494.7px;top:1930.0px;width:32.7px;height:88.0px;background:#ff6ba9;border-radius:16.0px;"></div>
<div class="r" style="left:2654.0px;top:1930.0px;width:9.5px;height:90.0px;background:#fdc85b;border-radius:4.8px;"></div>
<div class="r" style="left:3278.0px;top:1924.0px;width:19.0px;height:88.0px;background:#ff6ba9;border-radius:9.5px;"></div>
<div class="t" style="left:191.62px;top:2085.63px;font-size:59.5px;line-height:59.5px;color:#16202b;font-weight:400;transform:scaleX(0.9146);transform-origin:left center;">5</div>
<div class="t" style="left:223.95px;top:2085.63px;font-size:59.5px;line-height:59.5px;color:#16202b;font-weight:400;transform:scaleX(1.0089);transform-origin:left center;">6</div>
<svg class="r" style="left:261.70px;top:2093.80px" width="38.60" height="43.70" viewBox="0 0 38.60 43.70"><ellipse cx="9.13" cy="10.26" rx="6.18" ry="7.31" fill="none" stroke="#16202b" stroke-width="3.9"/><ellipse cx="29.33" cy="33.44" rx="6.32" ry="7.31" fill="none" stroke="#16202b" stroke-width="3.9"/><path d="M2.50 42.70 L7.55 42.70 L34.86 1 L30.28 1 Z" fill="#16202b"/></svg>
<svg class="r" style="left:476px;top:2060px" width="112" height="112" viewBox="0 0 112 112"><defs><clipPath id="ca112116"><circle cx="56" cy="56" r="56"/></clipPath><filter id="fa112116" x="-10%" y="-10%" width="120%" height="120%"><feGaussianBlur stdDeviation="1.3"/></filter></defs><g clip-path="url(#ca112116)"><g filter="url(#fa112116)"><rect width="112" height="112" fill="#d3d5d3"/>
<path d="M0 5 L112 8 L112 10 L0 7 Z" fill="#77736c"/>
<path d="M0 27 L112 30 L112 32 L0 29 Z" fill="#77736c"/>
<path d="M0 48 L112 51 L112 53 L0 50 Z" fill="#77736c"/>
<path d="M0 68 L112 71 L112 73 L0 70 Z" fill="#77736c"/>
<path d="M0 88 L112 91 L112 93 L0 90 Z" fill="#77736c"/>
<path d="M20 62 Q24 30 40 17 Q54 9 68 14 Q82 22 86 44 Q88 66 92 86 Q96 100 94 112 L24 112 Q16 96 20 80 Z" fill="#563f33"/>
<path d="M8 92 Q18 82 32 82 L50 112 L10 112 Z" fill="#1a1a1e"/>
<path d="M62 112 L70 84 Q90 88 102 96 L98 112 Z" fill="#1a1a1e"/>
<path d="M44 70 L68 70 L64 100 L56 112 L50 100 Z" fill="#ecc0a8"/>
<path d="M39 40 Q41 24 56 22 Q71 24 73 42 Q74 58 69 68 Q62 76 56 75 Q47 74 42 67 Q37 56 39 40 Z" fill="#efc2ae"/>
<path d="M45 58 Q56 64 66 58 Q58 70 47 62 Z" fill="#fbf4f0"/>
<path d="M26 48 Q32 26 50 20 Q42 34 40 54 Q38 78 44 102 L30 104 Q22 76 26 48 Z" fill="#563f33"/>
<path d="M84 44 Q78 24 62 19 Q72 34 72 56 Q74 80 70 102 L88 100 Q90 70 84 44 Z" fill="#563f33"/></g></g></svg>
<div class="r" style="left:620.0px;top:2104.0px;width:503.0px;height:24.0px;background:#c0c1c4;border-radius:12px;"></div>
<div class="r" style="left:2307.0px;top:2068.0px;width:993.0px;height:96.0px;background:#f4f4f4;border-radius:16px 0 0 16px;"></div>
<div class="r" style="left:2710.0px;top:2068.0px;width:9.6px;height:94.0px;background:#ff6ba9;border-radius:4.8px;"></div>
<div class="r" style="left:2799.0px;top:2068.0px;width:10.0px;height:94.0px;background:#ff6ba9;border-radius:5.0px;"></div>
<div class="r" style="left:2987.0px;top:2072.0px;width:28.2px;height:90.0px;background:#fdc85b;border-radius:14.1px;"></div>
<div class="r" style="left:3282.0px;top:2072.0px;width:48.0px;height:90.0px;background:#5a9dff;border-radius:16.0px;"></div>
<div class="r" style="left:1804.0px;top:144.0px;width:72.0px;height:2056.0px;background:rgba(0,0,0,0.059);border-radius:0;"></div>
<div class="r" style="left:1832px;top:136px;width:16px;height:16px;border-radius:50%;background:#8000ff"></div>
<svg class="r" style="left:0;top:0" width="12" height="12" viewBox="0 0 12 12"><path d="M0 0 H10.5 Q4 4 0 10.5 Z" fill="#000"/></svg>
<svg class="r" style="left:3288px;top:0" width="12" height="12" viewBox="0 0 12 12"><path d="M12 0 H1.5 Q8 4 12 10.5 Z" fill="#000"/></svg>
</div></body></html>
